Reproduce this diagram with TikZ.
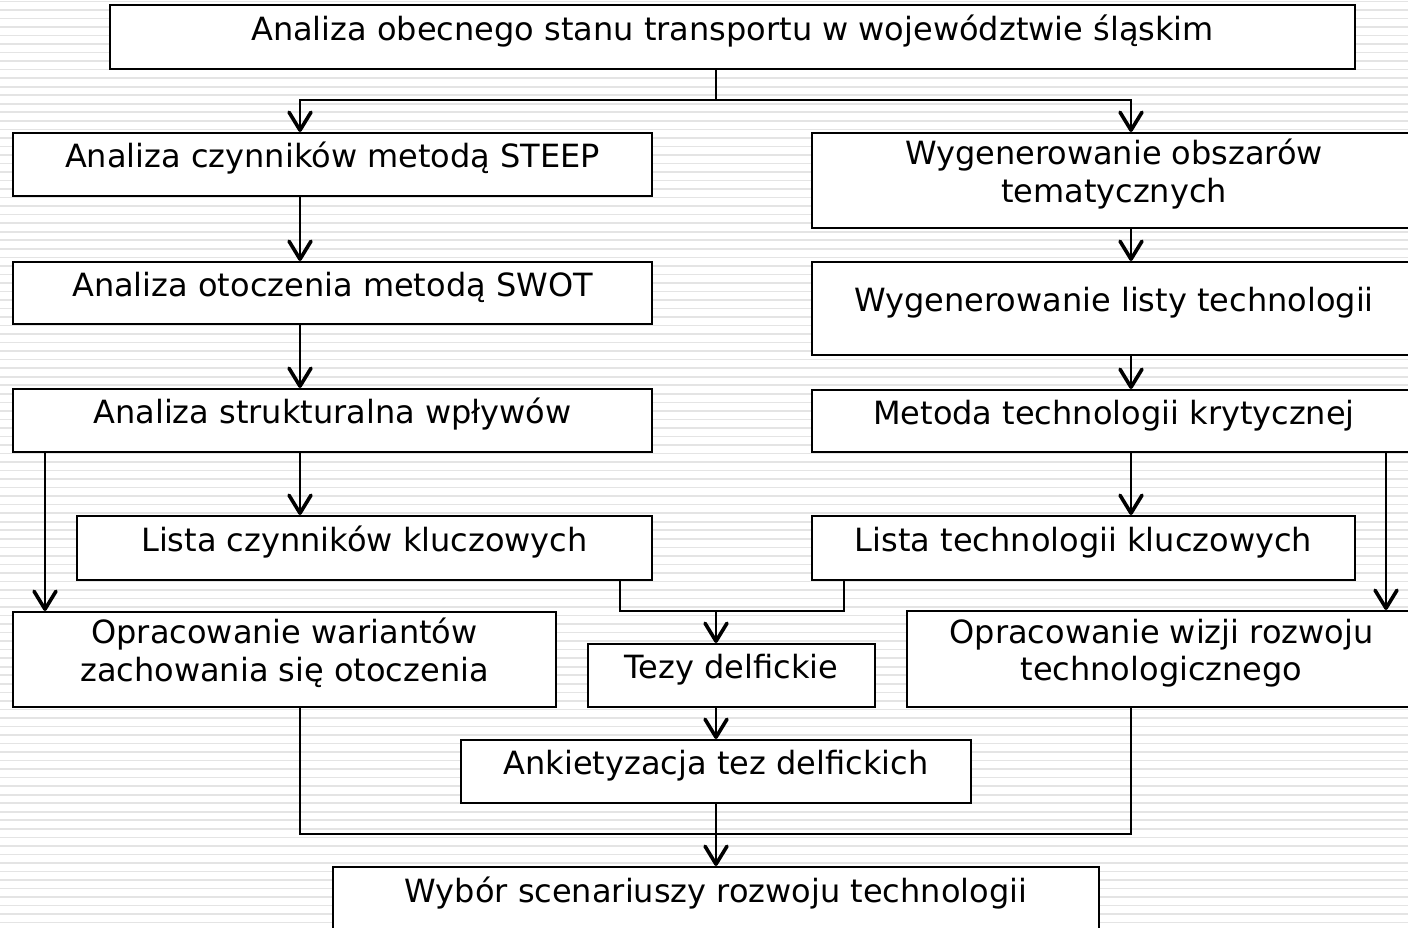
\documentclass[tikz,border=0pt]{standalone}
\usepackage{fontspec}
\setmainfont{DejaVu Sans}
\usetikzlibrary{arrows.meta}
\definecolor{stripe}{HTML}{E4E4E4}
\tikzset{
  box/.style={draw, line width=2pt, fill=white, inner sep=0pt, align=center, font=\fontsize{32pt}{37.4pt}\selectfont},
  link/.style={line width=1.8pt},
  arr/.style={link, -{Straight Barb[length=18pt, width=22pt, line width=0pt 2, round]}},
  bgline/.style={stripe, line width=1.6pt},
}
\newcommand{\tp}{\rule{0pt}{26pt}}
\newcommand{\bt}{\rule[-20pt]{0pt}{20pt}}
\newcommand{\blok}[6]{%
  \node[box, minimum width=#4-#2, minimum height=#5-#3] (#1) at ({(#2+#4)/2},{(#3+#5)/2}) {\tp #6\bt};}

\begin{document}
\begin{tikzpicture}[x=1pt,y=-1pt]
  \useasboundingbox (0,0) rectangle (1408,927);
  \fill[white] (0,0) rectangle (1408,927);
  \foreach \i in {0,...,108}
    \draw[bgline] (0,1.4+8.53*\i) -- (1408,1.4+8.53*\i);

  \blok{top}{110}{5}{1355}{69}{Analiza obecnego stanu transportu w województwie śląskim}
  \blok{steep}{13}{133}{652}{196}{Analiza czynników metodą STEEP}
  \blok{obszary}{812}{133}{1416}{228}{Wygenerowanie obszarów\\tematycznych}
  \blok{swot}{13}{262}{652}{324}{Analiza otoczenia metodą SWOT}
  \blok{lista}{812}{262}{1416}{355}{Wygenerowanie listy technologii}
  \blok{wplywy}{13}{389}{652}{452}{Analiza strukturalna wpływów}
  \blok{kryt}{812}{390}{1416}{452}{Metoda technologii krytycznej}
  \blok{czkl}{77}{516}{652}{580}{Lista czynników kluczowych}
  \blok{tkl}{812}{516}{1355}{580}{Lista technologii kluczowych}
  \blok{warianty}{13}{612}{556}{707}{Opracowanie wariantów\\zachowania się otoczenia}
  \blok{tezy}{588}{644}{875}{707}{Tezy delfickie}
  \blok{wizja}{907}{611}{1416}{707}{Opracowanie wizji rozwoju\\technologicznego}
  \blok{ankieta}{461}{740}{971}{803}{Ankietyzacja tez delfickich}
  \blok{wybor}{333}{867}{1099}{931}{Wybór scenariuszy rozwoju technologii}

  \coordinate (lc) at (300,0);
  \coordinate (rc) at (1131,0);
  \coordinate (mc) at (716,0);
  \coordinate (ll) at (45,0);
  \coordinate (rr) at (1386,0);
  \coordinate (ja) at (620,0);
  \coordinate (jb) at (844,0);
  \coordinate (split) at (716,100);
  \coordinate (join1) at (716,611);
  \coordinate (join2) at (716,834);

  \draw[link] (mc |- top.south) -- (split);
  \draw[arr] (split) -| (lc |- steep.north);
  \draw[arr] (split) -| (rc |- obszary.north);
  \draw[arr] (lc |- steep.south) -- (lc |- swot.north);
  \draw[arr] (lc |- swot.south) -- (lc |- wplywy.north);
  \draw[arr] (lc |- wplywy.south) -- (lc |- czkl.north);
  \draw[arr] (ll |- wplywy.south) -- (ll |- warianty.north);
  \draw[arr] (rc |- obszary.south) -- (rc |- lista.north);
  \draw[arr] (rc |- lista.south) -- (rc |- kryt.north);
  \draw[arr] (rc |- kryt.south) -- (rc |- tkl.north);
  \draw[arr] (rr |- kryt.south) -- (rr |- wizja.north);
  \draw[link] (ja |- czkl.south) |- (join1) -| (jb |- tkl.south);
  \draw[arr] (join1) -- (mc |- tezy.north);
  \draw[arr] (mc |- tezy.south) -- (mc |- ankieta.north);
  \draw[link] (lc |- warianty.south) |- (join2) -| (rc |- wizja.south);
  \draw[arr] (mc |- ankieta.south) -- (mc |- wybor.north);
\end{tikzpicture}
\end{document}
